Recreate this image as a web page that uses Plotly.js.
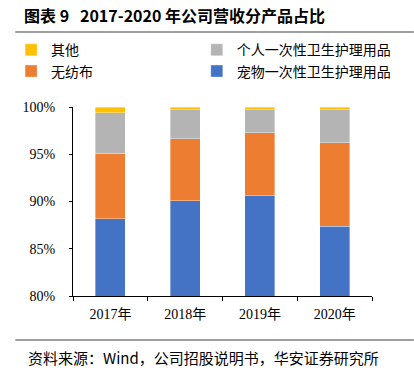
<!DOCTYPE html>
<html>
<head>
<meta charset="utf-8">
<script src="https://cdn.plot.ly/plotly-3.0.1.min.js"></script>
<style>html,body{margin:0;padding:0;background:#fff}#chart{width:414px;height:371px}</style>
</head>
<body>
<div id="chart"></div>
<script>
var categories = ["2017年", "2018年", "2019年", "2020年"];
var petCare = [88.2, 90.1, 90.6, 87.4];      // 宠物一次性卫生护理用品
var nonwoven = [6.9, 6.55, 6.7, 8.8];        // 无纺布
var personalCare = [4.3, 3.05, 2.4, 3.5];    // 个人一次性卫生护理用品
var other = [0.6, 0.3, 0.3, 0.3];            // 其他
var seriesNames = ["宠物一次性卫生护理用品", "无纺布", "个人一次性卫生护理用品", "其他"];
var yTickVals = [80, 85, 90, 95, 100];
var yTickText = ["80%", "85%", "90%", "95%", "100%"];

var colors = ["#4472C4", "#ED7D31", "#B4B4B4", "#FFC000"];
var legendIds = ["legend2", "legend", "legend2", "legend"];
var serif = "Liberation Serif, 'Times New Roman', 'Noto Sans CJK SC', serif";
var cjk = "'Noto Sans CJK SC', sans-serif";

var series = [petCare, nonwoven, personalCare, other];
var traces = series.map(function (vals, i) {
  return {
    type: "bar",
    name: seriesNames[i],
    x: categories,
    y: vals,
    width: 0.4,
    legend: legendIds[i],
    marker: { color: colors[i], line: { color: "rgba(255,255,255,0.6)", width: 0.6 } },
    hoverinfo: "none"
  };
});

var legendFont = { family: cjk, size: 14, color: "#000" };

var layout = {
  width: 414,
  height: 371,
  margin: { l: 72, r: 42, t: 107, b: 75 },
  paper_bgcolor: "#fff",
  plot_bgcolor: "#fff",
  barmode: "stack",
  showlegend: true,
  title: {
    text: "图表 9\u00a0\u00a0 2017-2020 年公司营收分产品占比",
    font: { family: cjk, size: 16, color: "#000", weight: "bold" },
    xref: "container", yref: "container",
    x: 24 / 414, xanchor: "left",
    y: 1 - 16 / 371, yanchor: "middle"
  },
  legend: {
    orientation: "v",
    traceorder: "reversed",
    x: -0.203, xanchor: "left",
    y: 1.385, yanchor: "top",
    font: legendFont,
    bgcolor: "rgba(0,0,0,0)"
  },
  legend2: {
    orientation: "v",
    traceorder: "reversed",
    x: 0.416, xanchor: "left",
    y: 1.385, yanchor: "top",
    font: legendFont,
    bgcolor: "rgba(0,0,0,0)"
  },
  xaxis: {
    type: "category",
    showline: true, linecolor: "#000", linewidth: 1,
    ticks: "outside", tickson: "boundaries", ticklen: 4, tickcolor: "#000",
    tickfont: { family: serif, size: 14, color: "#000" },
    ticklabelstandoff: 5,
    showgrid: false, zeroline: false,
    range: [-0.5, 3.5]
  },
  yaxis: {
    range: [80, 100],
    tickvals: yTickVals, ticktext: yTickText,
    showline: true, linecolor: "#000", linewidth: 1,
    ticks: "outside", ticklen: 3, tickcolor: "#000",
    tickfont: { family: serif, size: 14, color: "#000" },
    ticklabelstandoff: 11,
    showgrid: false, zeroline: false
  },
  shapes: [
    { type: "line", xref: "paper", yref: "paper", x0: -0.193, x1: 1.14, y0: 1.397, y1: 1.397,
      line: { color: "#7f7f7f", width: 1.5 } },
    { type: "line", xref: "paper", yref: "paper", x0: -0.193, x1: 1.14, y0: -0.233, y1: -0.233,
      line: { color: "#7f7f7f", width: 1.5 } }
  ],
  annotations: [
    { text: "资料来源：Wind，公司招股说明书，华安证券研究所", xref: "paper", yref: "paper",
      x: -0.1565, y: -0.328, xanchor: "left", yanchor: "middle", showarrow: false,
      font: { family: cjk, size: 15, color: "#000" } }
  ]
};

Plotly.newPlot("chart", traces, layout, { displayModeBar: false, staticPlot: true });
</script>
</body>
</html>
